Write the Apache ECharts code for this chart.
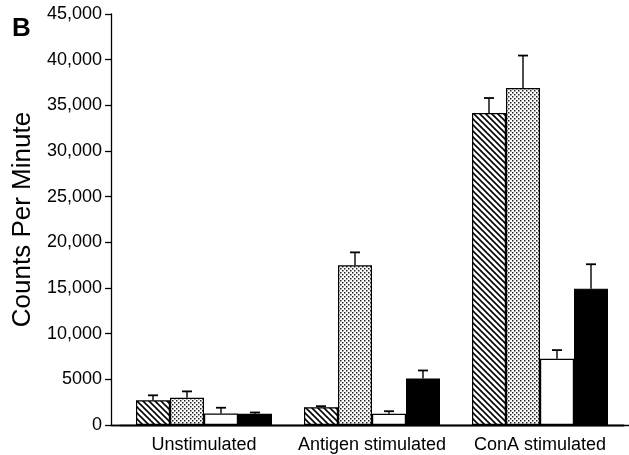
<!DOCTYPE html>
<html>
<head>
<meta charset="utf-8">
<script src="https://cdn.jsdelivr.net/npm/echarts@6/dist/echarts.min.js"></script>
<style>
html,body{margin:0;padding:0;background:#fff;}
#chart{width:629px;height:455px;}
</style>
</head>
<body>
<div id="chart"></div>
<script>
// ---- data ----
const categories = ['Unstimulated', 'Antigen stimulated', 'ConA stimulated'];
const seriesNames = ['Hatched', 'Stippled', 'Open', 'Solid'];
const hatchedVals = [2700, 1950, 34150];
const hatchedErr  = [3250, 2060, 35800];
const stippledVals = [2980, 17480, 36900];
const stippledErr  = [3680, 18900, 40450];
const openVals = [1260, 1230, 7260];
const openErr  = [1890, 1510, 8200];
const solidVals = [1230, 5100, 14930];
const solidErr  = [1370, 5970, 17600];
const yTicks = [0, 5000, 10000, 15000, 20000, 25000, 30000, 35000, 40000, 45000];

// ---- patterns ----
function hatchPattern() {
  const c = document.createElement('canvas');
  c.width = 6; c.height = 6;
  const g = c.getContext('2d');
  g.fillStyle = '#fff'; g.fillRect(0, 0, 6, 6);
  g.strokeStyle = '#000'; g.lineWidth = 1.6;
  g.beginPath();
  g.moveTo(-1, -1); g.lineTo(7, 7);
  g.moveTo(-7, -1); g.lineTo(1, 7);
  g.moveTo(5, -1); g.lineTo(13, 7);
  g.stroke();
  return c;
}
function dotPattern() {
  const c = document.createElement('canvas');
  c.width = 4; c.height = 4;
  const g = c.getContext('2d');
  g.fillStyle = '#fff'; g.fillRect(0, 0, 4, 4);
  g.fillStyle = '#222';
  g.fillRect(0, 0, 1.5, 1.5);
  g.fillRect(2, 2, 1.5, 1.5);
  return c;
}

const barW = 34;
const fills = [
  { image: hatchPattern(), repeat: 'repeat' },
  { image: dotPattern(), repeat: 'repeat' },
  '#ffffff',
  '#000000'
];
const vals = [hatchedVals, stippledVals, openVals, solidVals];
const errs = [hatchedErr, stippledErr, openErr, solidErr];

const series = [];
seriesNames.forEach((n, i) => {
  series.push({
    name: n, type: 'bar', xAxisIndex: 0, yAxisIndex: 0,
    data: vals[i], barWidth: barW, barGap: '0%',
    itemStyle: { color: fills[i], borderColor: '#000', borderWidth: 1.2 },
    silent: true, z: 2
  });
});
seriesNames.forEach((n, i) => {
  series.push({
    name: n + ' err', type: 'custom', xAxisIndex: 0, yAxisIndex: 0,
    data: categories.map((c, k) => [k, vals[i][k], errs[i][k]]),
    z: 3, silent: true,
    renderItem: function (params, api) {
      const base = api.coord([api.value(0), api.value(1)]);
      const top = api.coord([api.value(0), api.value(2)]);
      const x = base[0] + (i - 1.5) * barW;
      const cap = 5;
      return {
        type: 'group',
        children: [
          { type: 'line', shape: { x1: x, y1: base[1], x2: x, y2: top[1] }, style: { stroke: '#000', lineWidth: 1.4 } },
          { type: 'line', shape: { x1: x - cap, y1: top[1], x2: x + cap, y2: top[1] }, style: { stroke: '#000', lineWidth: 1.8 } }
        ]
      };
    }
  });
});

const chart = echarts.init(document.getElementById('chart'), null, { renderer: 'canvas' });
const font = '"Liberation Sans", Arial, Helvetica, sans-serif';
chart.setOption({
  animation: false,
  backgroundColor: '#fff',
  title: {
    text: 'B', left: 7, top: 11,
    textStyle: { fontFamily: font, fontWeight: 'bold', fontSize: 26, color: '#000' }
  },
  grid: [
    { left: 120, right: 5, top: 14, bottom: 30 },
    { left: 111, right: 0, top: 14, bottom: 30 },
    { left: 111, right: 5, top: 14, bottom: 30 }
  ],
  xAxis: [
    {
      type: 'category', gridIndex: 0, data: categories,
      axisLine: { show: true, lineStyle: { color: '#000', width: 1.3 } },
      axisTick: { show: false },
      axisLabel: { interval: 0, fontFamily: font, fontSize: 18, color: '#000', margin: 11 }
    },
    {
      type: 'value', gridIndex: 1, position: 'top', min: 0, max: 1,
      axisLine: { show: true, lineStyle: { color: '#000', width: 1.3 } },
      axisTick: { show: false }, axisLabel: { show: false }, splitLine: { show: false }
    },
    {
      type: 'value', gridIndex: 2, position: 'bottom', min: 0, max: 1,
      axisLine: { show: true, lineStyle: { color: '#000', width: 1.3 } },
      axisTick: { show: false }, axisLabel: { show: false }, splitLine: { show: false }
    }
  ],
  yAxis: [
    {
      type: 'value', gridIndex: 0, min: 0, max: 45000, interval: 5000, offset: 9,
      name: 'Counts Per Minute', nameLocation: 'middle', nameGap: 75, nameMoveOverlap: false,
      nameTextStyle: { fontFamily: font, fontSize: 26, color: '#000' },
      axisLine: { show: true, lineStyle: { color: '#000', width: 1.3 } },
      axisTick: { show: true, length: 6, lineStyle: { color: '#000', width: 1.3 } },
      splitLine: { show: false },
      axisLabel: {
        fontFamily: font, fontSize: 18, color: '#000', margin: 9,
        formatter: v => (yTicks.indexOf(v) >= 0 ? (v >= 10000 ? v.toLocaleString('en-US') : String(v)) : '')
      }
    },
    { type: 'value', gridIndex: 1, show: false, min: 0, max: 1 },
    { type: 'value', gridIndex: 2, show: false, min: 0, max: 1 }
  ],
  series: series
});
</script>
</body>
</html>
